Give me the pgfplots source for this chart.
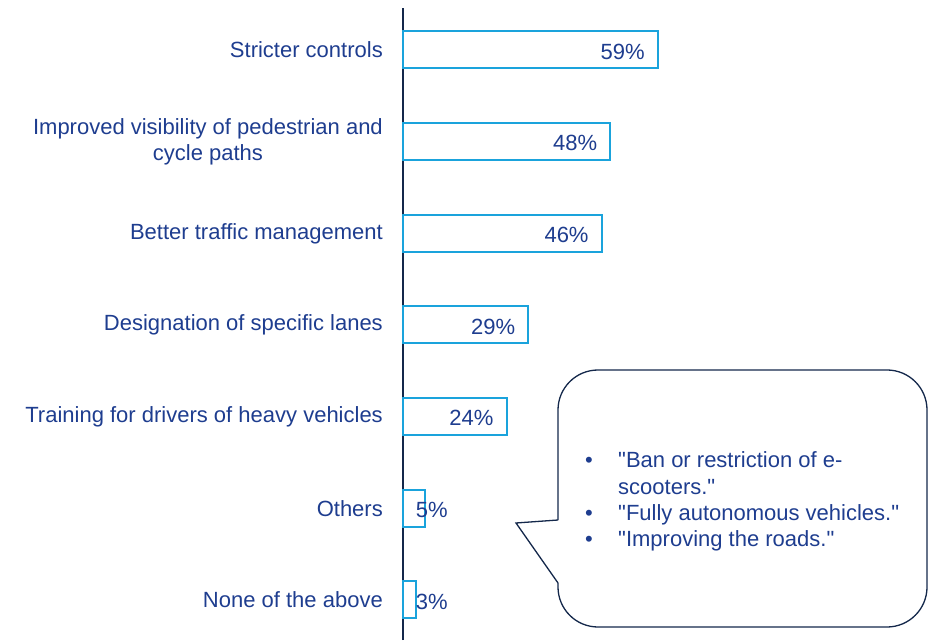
\documentclass[border=0pt]{standalone}
\usepackage{fontspec}
\setmainfont{Liberation Sans}[Ligatures=TeXOff]
\usepackage{pgfplots}
\pgfplotsset{compat=1.18}
\definecolor{navy}{HTML}{1E3D8F}
\definecolor{axisnavy}{HTML}{14284B}
\definecolor{barblue}{HTML}{1AA3DC}
\newcommand{\lbl}{\fontsize{22}{26}\selectfont}

\begin{document}
\begin{tikzpicture}[x=1pt,y=1pt]
\useasboundingbox (0,0) rectangle (928,640);
\begin{axis}[
  at={(403pt,0pt)}, anchor=south west,
  scale only axis, width=525pt, height=632pt,
  xmin=0, xmax=121.53, ymin=-0.4364, ymax=6.4582,
  hide x axis, axis y line*=left,
  y axis line style={axisnavy, line width=1.5pt, -},
  ytick={0,...,6},
  yticklabels={None of the above, Others, Training for drivers of heavy vehicles,
    Designation of specific lanes, Better traffic management,
    {Improved visibility of pedestrian and\\cycle paths}, Stricter controls},
  yticklabel style={align=center, text=navy, font=\lbl, inner sep=0pt, xshift=-20pt},
  major tick length=0pt,
  clip=false,
]
% bars
\addplot[xbar, bar width=37pt, draw=barblue, fill=white, line width=2pt]
  coordinates {(59,6) (48,5) (46,4) (29,3) (24,2) (5,1) (3,0)};
% value labels (lx = right edge of the label)
\addplot[draw=none, mark=none, point meta=explicit,
  nodes near coords={\pgfmathprintnumber[assume math mode=true]{\pgfplotspointmeta}\%},
  every node near coord/.append style={anchor=east, inner sep=0pt, text=navy, font=\lbl, yshift=-1.5pt}]
  table[x=lx, y=y, meta=v] {
lx   y v
56   6 59
45   5 48
43   4 46
26   3 29
21   2 24
10.4 1 5
10.4 0 3
};
\end{axis}

% callout
\draw[axisnavy, line width=1.3pt, rounded corners=40pt]
  (558,120) -- (558,270) -- (927,270) -- (927,13) -- (558,13) -- (558,57);
\draw[axisnavy, line width=1.3pt] (558,57) -- (516,117) -- (558,120);
\begin{scope}[every node/.style={anchor=base west, inner sep=0pt, text=navy, font=\lbl}]
  \node at (585,172) {•};
  \node at (585,120) {•};
  \node at (585,94) {•};
  \node at (618,172) {"Ban or restriction of e-};
  \node at (618,146) {scooters."};
  \node at (618,120) {"Fully autonomous vehicles."};
  \node at (618,94) {"Improving the roads."};
\end{scope}
\end{tikzpicture}
\end{document}
